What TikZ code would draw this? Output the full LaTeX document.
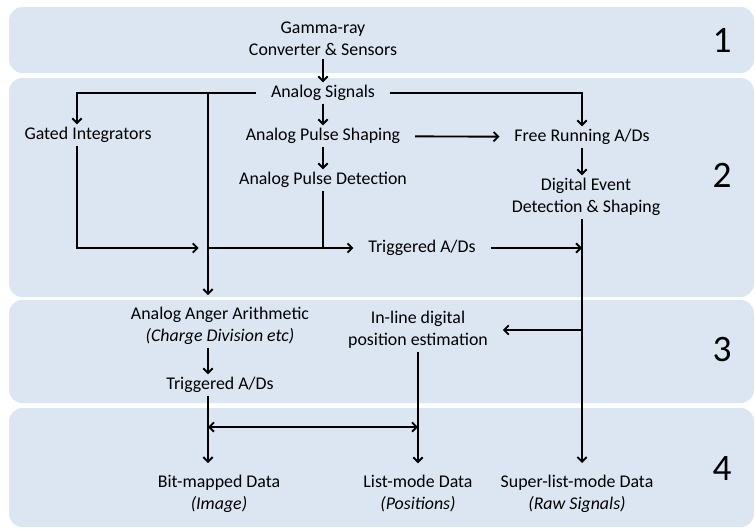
\documentclass[tikz,border=0pt]{standalone}
\usepackage{fontspec}
\setmainfont{Carlito}
\usetikzlibrary{arrows.meta,calc}
\definecolor{bandcol}{RGB}{220,230,242}

\begin{document}
\begin{tikzpicture}[x=0.75pt,y=-0.75pt,
  >={Straight Barb[length=3.5pt,width=7pt]},
  lbl/.style={font=\fontsize{13.4}{16.5}\selectfont,align=center,inner xsep=11pt,inner ysep=2pt},
  num/.style={font=\fontsize{28}{30}\selectfont},
  arr/.style={->,line width=1.4pt},
  wire/.style={line width=1.4pt}]
\useasboundingbox (0,0) rectangle (755,529);
% bands
\fill[bandcol,rounded corners=10] (9,7) rectangle (754,73);
\fill[bandcol,rounded corners=10] (9,78) rectangle (754,297);
\fill[bandcol,rounded corners=10] (9,300) rectangle (754,403);
\fill[bandcol,rounded corners=10] (9,408) rectangle (754,527);
\node[num] (n1) at (722,40) {1};
\node[num] (n2) at (722,175) {2};
\node[num] (n3) at (722,350) {3};
\node[num] (n4) at (722,469) {4};
% row 1
\node[lbl] (gamma) at (323,39) {Gamma-ray\\Converter \& Sensors};
% row 2
\node[lbl] (signals) at (323,93) {Analog Signals};
\node[lbl] (gated) at (88,135) {Gated Integrators};
\node[lbl] (shaping) at (323,136) {Analog Pulse Shaping};
\node[lbl] (detect) at (323,180) {Analog Pulse Detection};
\node[lbl] (free) at (582,137) {Free Running A/Ds};
\node[lbl] (digital) at (586,197) {Digital Event\\Detection \& Shaping};
\node[lbl] (trig) at (422,248) {Triggered A/Ds};
% row 3
\node[lbl] (anger) at (220,326) {Analog Anger Arithmetic\\\textit{(Charge Division etc)}};
\node[lbl] (inline) at (418,330) {In-line digital\\position estimation};
\node[lbl] (trigb) at (220,385) {Triggered A/Ds};
% row 4
\node[lbl] (bitmap) at (219,494) {Bit-mapped Data\\\textit{(Image)}};
\node[lbl] (listmode) at (418,494) {List-mode Data\\\textit{(Positions)}};
\node[lbl] (superlist) at (577,494) {Super-list-mode Data\\\textit{(Raw Signals)}};
\coordinate (trunk) at (208,93);
\coordinate (join) at (208,248);
\coordinate (hub) at (208,427);
% connectors
\draw[arr] (gamma) -- (signals);
\draw[arr] (signals.west) -| ($(gated.north)+(-11,0)$);
\draw[arr] (signals.east) -| (free);
\draw[arr] (signals) -- (shaping);
\draw[arr] (shaping) -- (detect);
\draw[arr] (shaping) -- (free);
\draw[arr] (free) -- (free |- digital.north);
\draw[arr,shorten >=7pt] ($(gated.south)+(-11,0)$) |- (join);
\draw[wire] (detect) -- (detect |- join);
\draw[arr] (join) -- (trig);
\draw[arr] (trig) -- (trig -| free);
\draw[arr,shorten >=7pt] (digital.south -| free) -- (free |- superlist.north);
\draw[arr] (inline -| free) -- (inline);
\draw[arr,shorten >=7pt] (inline) -- (listmode);
\draw[arr,shorten >=7pt] (trunk) -- (trunk |- anger.north);
\draw[arr] (trunk |- anger.south) -- (trunk |- trigb.north);
\draw[arr,shorten >=7pt] (trunk |- trigb.south) -- (trunk |- bitmap.north);
\draw[<->,wire] (hub) -- (hub -| listmode);
\end{tikzpicture}
\end{document}
